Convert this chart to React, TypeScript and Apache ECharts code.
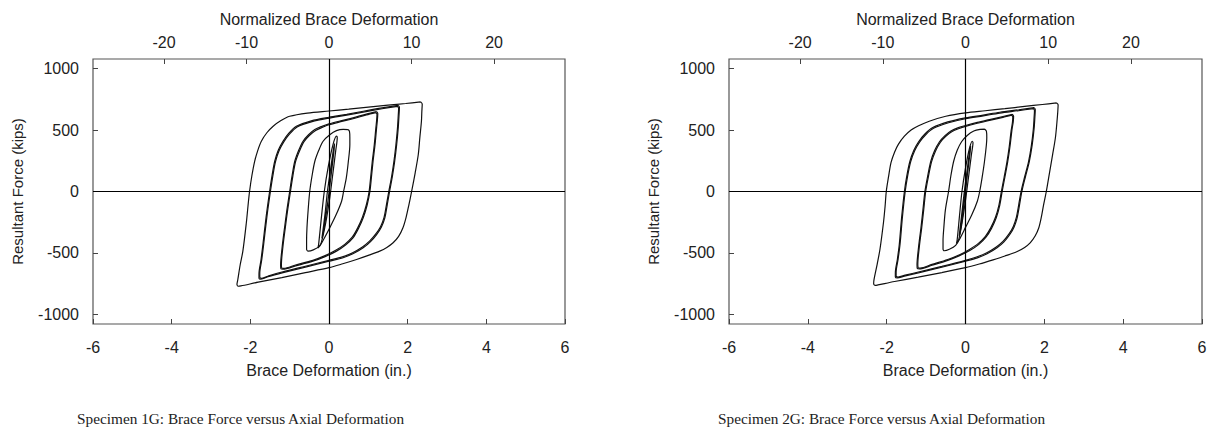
import React, { useEffect, useRef } from "react";
import * as echarts from "echarts";

// ---- Tick labels ----
const bottomTicks = [-6, -4, -2, 0, 2, 4, 6];
const topTicks = [-20, -10, 0, 10, 20];
const yTicks = [-1000, -500, 0, 500, 1000];

// ---- Titles ----
const captions = [
  "Specimen 1G: Brace Force versus Axial Deformation",
  "Specimen 2G: Brace Force versus Axial Deformation",
];

// ---- Specimen 1G loops: [deformation (in.), force (kips)] ----
const s1Elastic1 = [[-0.28,-460],[-0.26,-420],[-0.19,-200],[-0.12,0],[-0.02,200],[0.10,380],[0.19,450],[0.21,440],[0.17,330],[0.08,100],[0.02,-50],[-0.08,-250],[-0.20,-420],[-0.28,-460]];
const s1Elastic2 = [[-0.18,-380],[-0.10,-180],[-0.04,0],[0.04,180],[0.12,360],[0.14,390],[0.13,340],[0.06,150],[-0.02,-60],[-0.10,-250],[-0.16,-360],[-0.18,-380]];
const s1Loop4 = [[0.48,504],[0.52,490],[0.53,440],[0.53,382],[0.49,240],[0.44,111],[0.37,0],[0.32,-79],[0.18,-190],[0.02,-295],[-0.12,-380],[-0.24,-445],[-0.40,-475],[-0.53,-485],[-0.57,-470],[-0.57,-400],[-0.56,-295],[-0.53,-150],[-0.49,0],[-0.43,130],[-0.36,246],[-0.26,335],[-0.15,409],[0.02,462],[0.19,495],[0.36,506],[0.48,504]];
const s1Loop3a = [[1.21,650],[1.24,635],[1.23,580],[1.21,518],[1.17,380],[1.12,246],[1.08,120],[1.04,0],[0.97,-110],[0.87,-214],[0.75,-300],[0.61,-377],[0.42,-435],[0.19,-485],[-0.10,-530],[-0.41,-567],[-0.85,-605],[-1.17,-632],[-1.22,-630],[-1.23,-600],[-1.19,-450],[-1.13,-295],[-1.07,-150],[-1.00,0],[-0.94,125],[-0.87,246],[-0.77,335],[-0.66,409],[-0.52,462],[-0.36,504],[-0.18,530],[0,550],[0.30,575],[0.61,599],[0.95,630],[1.21,650]];
const s1Loop3b = [[1.19,642],[1.22,628],[1.21,575],[1.19,512],[1.15,376],[1.10,243],[1.06,118],[1.02,0],[0.95,-108],[0.85,-210],[0.73,-296],[0.59,-372],[0.40,-430],[0.17,-478],[-0.10,-522],[-0.41,-560],[-0.85,-598],[-1.15,-625],[-1.20,-623],[-1.21,-594],[-1.17,-445],[-1.11,-292],[-1.05,-148],[-0.98,0],[-0.92,123],[-0.85,243],[-0.75,330],[-0.64,404],[-0.50,456],[-0.34,497],[-0.16,523],[0,543],[0.30,568],[0.61,592],[0.95,623],[1.19,642]];
const s1Loop2a = [[1.76,700],[1.79,685],[1.78,620],[1.76,518],[1.72,380],[1.67,246],[1.61,120],[1.54,0],[1.48,-110],[1.42,-214],[1.33,-290],[1.21,-350],[1.05,-410],[0.87,-458],[0.62,-505],[0.36,-539],[0,-567],[-0.60,-615],[-1.17,-660],[-1.55,-693],[-1.73,-713],[-1.78,-705],[-1.78,-670],[-1.73,-560],[-1.68,-431],[-1.60,-210],[-1.51,0],[-1.45,125],[-1.38,246],[-1.29,335],[-1.17,409],[-1.02,475],[-0.83,531],[-0.45,575],[0,604],[0.45,628],[0.87,653],[1.35,680],[1.76,700]];
const s1Loop2b = [[1.74,693],[1.77,678],[1.76,614],[1.74,512],[1.70,376],[1.65,243],[1.59,118],[1.52,0],[1.46,-108],[1.40,-210],[1.31,-286],[1.19,-345],[1.03,-404],[0.85,-451],[0.60,-498],[0.34,-532],[0,-560],[-0.60,-608],[-1.17,-653],[-1.53,-686],[-1.71,-706],[-1.76,-698],[-1.76,-664],[-1.71,-555],[-1.66,-427],[-1.58,-208],[-1.49,0],[-1.43,123],[-1.36,243],[-1.27,331],[-1.15,404],[-1.00,469],[-0.81,525],[-0.43,568],[0,597],[0.45,621],[0.87,646],[1.35,673],[1.74,693]];
const s1Loop1 = [[2.33,729],[2.37,712],[2.36,650],[2.35,572],[2.31,440],[2.27,301],[2.19,150],[2.10,0],[2.03,-110],[1.96,-210],[1.88,-295],[1.77,-365],[1.63,-417],[1.47,-455],[1.29,-485],[1.00,-520],[0.70,-553],[0.35,-588],[0,-620],[-0.60,-660],[-1.20,-700],[-1.80,-738],[-2.24,-768],[-2.31,-771],[-2.34,-755],[-2.32,-720],[-2.26,-600],[-2.19,-485],[-2.10,-250],[-2.06,-120],[-2.02,0],[-1.96,130],[-1.89,246],[-1.81,335],[-1.72,409],[-1.58,478],[-1.42,531],[-1.22,577],[-1.00,612],[-0.55,638],[0,655],[0.50,670],[1.00,686],[1.50,702],[1.95,716],[2.33,729]];

// ---- Specimen 2G loops ----
const s2Elastic1 = [[-0.23,-425],[-0.21,-390],[-0.15,-190],[-0.09,0],[0.00,190],[0.10,350],[0.17,409],[0.19,398],[0.15,300],[0.07,100],[0.01,-50],[-0.08,-240],[-0.17,-390],[-0.23,-425]];
const s2Elastic2 = [[-0.16,-360],[-0.09,-170],[-0.03,0],[0.04,170],[0.11,340],[0.13,372],[0.12,325],[0.05,140],[-0.02,-60],[-0.09,-240],[-0.14,-340],[-0.16,-360]];
const s2Loop4 = [[0.49,507],[0.53,492],[0.54,440],[0.53,380],[0.48,240],[0.42,111],[0.36,0],[0.30,-79],[0.16,-190],[0.00,-292],[-0.13,-375],[-0.25,-438],[-0.41,-470],[-0.54,-482],[-0.57,-468],[-0.57,-400],[-0.55,-295],[-0.51,-150],[-0.43,0],[-0.37,130],[-0.30,246],[-0.21,335],[-0.10,405],[0.05,458],[0.21,492],[0.37,505],[0.49,507]];
const s2Loop3a = [[1.19,628],[1.22,613],[1.21,565],[1.18,505],[1.13,370],[1.07,240],[1.00,118],[0.93,0],[0.87,-110],[0.78,-214],[0.66,-300],[0.52,-372],[0.34,-430],[0.12,-478],[-0.15,-522],[-0.45,-560],[-0.85,-600],[-1.17,-630],[-1.22,-628],[-1.23,-598],[-1.19,-450],[-1.13,-295],[-1.08,-150],[-1.03,0],[-0.96,125],[-0.88,246],[-0.78,335],[-0.66,405],[-0.52,455],[-0.36,495],[-0.18,520],[0,537],[0.30,562],[0.61,585],[0.95,610],[1.19,628]];
const s2Loop3b = [[1.17,621],[1.20,606],[1.19,559],[1.16,499],[1.11,366],[1.05,237],[0.98,116],[0.91,0],[0.85,-108],[0.76,-210],[0.64,-296],[0.50,-367],[0.32,-424],[0.10,-471],[-0.15,-515],[-0.45,-553],[-0.85,-593],[-1.15,-623],[-1.20,-621],[-1.21,-592],[-1.17,-445],[-1.11,-292],[-1.06,-148],[-1.01,0],[-0.94,123],[-0.86,243],[-0.76,330],[-0.64,400],[-0.50,449],[-0.34,488],[-0.16,513],[0,530],[0.30,555],[0.61,578],[0.95,603],[1.17,621]];
const s2Loop2a = [[1.74,682],[1.77,667],[1.76,605],[1.74,510],[1.69,375],[1.62,246],[1.52,120],[1.43,0],[1.37,-110],[1.31,-214],[1.23,-290],[1.12,-352],[0.97,-412],[0.80,-458],[0.56,-505],[0.30,-540],[0,-567],[-0.60,-616],[-1.17,-660],[-1.55,-688],[-1.73,-703],[-1.78,-695],[-1.78,-662],[-1.73,-555],[-1.68,-431],[-1.62,-210],[-1.55,0],[-1.49,125],[-1.41,246],[-1.31,335],[-1.19,405],[-1.03,468],[-0.83,520],[-0.45,566],[0,599],[0.45,622],[0.87,645],[1.35,665],[1.74,682]];
const s2Loop2b = [[1.72,675],[1.75,660],[1.74,599],[1.72,504],[1.67,371],[1.60,243],[1.50,118],[1.41,0],[1.35,-108],[1.29,-210],[1.21,-286],[1.10,-347],[0.95,-406],[0.78,-451],[0.54,-498],[0.28,-533],[0,-560],[-0.60,-609],[-1.17,-653],[-1.53,-681],[-1.71,-696],[-1.76,-688],[-1.76,-656],[-1.71,-550],[-1.66,-427],[-1.60,-208],[-1.53,0],[-1.47,123],[-1.39,243],[-1.29,331],[-1.17,400],[-1.01,462],[-0.81,514],[-0.43,559],[0,592],[0.45,615],[0.87,638],[1.35,658],[1.72,675]];
const s2Loop1 = [[2.31,721],[2.35,705],[2.34,645],[2.32,565],[2.28,435],[2.21,300],[2.13,150],[2.05,0],[1.98,-110],[1.92,-215],[1.86,-295],[1.77,-360],[1.64,-418],[1.50,-455],[1.30,-490],[1.00,-525],[0.70,-556],[0.35,-590],[0,-620],[-0.60,-660],[-1.20,-697],[-1.80,-732],[-2.22,-760],[-2.29,-764],[-2.33,-750],[-2.32,-715],[-2.24,-590],[-2.17,-470],[-2.08,-250],[-2.04,-120],[-2.01,0],[-1.95,125],[-1.89,235],[-1.80,320],[-1.70,385],[-1.55,450],[-1.38,500],[-1.19,535],[-0.92,572],[-0.50,612],[0,640],[0.50,657],[1.00,674],[1.50,692],[1.95,708],[2.31,721]];

const loops1G = [s1Elastic1, s1Elastic2, s1Loop4, s1Loop3a, s1Loop3b, s1Loop2a, s1Loop2b, s1Loop1];
const loops2G = [s2Elastic1, s2Elastic2, s2Loop4, s2Loop3a, s2Loop3b, s2Loop2a, s2Loop2b, s2Loop1];

const SANS = "'Liberation Sans', Arial, sans-serif";
const SERIF = "'Liberation Serif', 'Times New Roman', serif";
const TEXT = "#222";
const FS = 16;

const grids = [
  { left: 93, top: 59, width: 472, height: 265 },
  { left: 729, top: 59, width: 473, height: 265 },
];

export default function App() {
  const ref = useRef<HTMLDivElement>(null);

  useEffect(() => {
    if (!ref.current) return;
    const chart = echarts.init(ref.current, null, { renderer: "svg" });

    const plain = (v: number) => String(v);
    const xAxes: any[] = [];
    const yAxes: any[] = [];
    grids.forEach((_, gi) => {
      xAxes.push({
        type: "value",
        gridIndex: gi,
        position: "bottom",
        min: bottomTicks[0],
        max: bottomTicks[bottomTicks.length - 1],
        interval: 2,
        axisLine: { show: false, onZero: false },
        axisTick: { show: true, inside: true, length: 5, lineStyle: { color: "#444", width: 1 } },
        axisLabel: { margin: 15, fontSize: FS, color: TEXT, fontFamily: SANS, formatter: plain },
        splitLine: { show: false },
        name: "Brace Deformation (in.)",
        nameLocation: "middle",
        nameGap: 38,
        nameTextStyle: { fontSize: FS, color: TEXT, fontFamily: SANS },
      });
      xAxes.push({
        type: "value",
        gridIndex: gi,
        position: "top",
        min: -28.6,
        max: 28.6,
        axisLine: { show: false, onZero: false },
        axisTick: { show: true, inside: true, length: 5, customValues: topTicks, lineStyle: { color: "#444", width: 1 } },
        axisLabel: { margin: 9, fontSize: FS, color: TEXT, fontFamily: SANS, customValues: topTicks, formatter: plain },
        splitLine: { show: false },
        name: "Normalized Brace Deformation",
        nameLocation: "middle",
        nameGap: 32,
        nameTextStyle: { fontSize: FS, color: TEXT, fontFamily: SANS },
      });
      yAxes.push({
        type: "value",
        gridIndex: gi,
        position: "left",
        min: -1078,
        max: 1078,
        axisLine: { show: false, onZero: false },
        axisTick: { show: true, inside: true, length: 5, customValues: yTicks, lineStyle: { color: "#444", width: 1 } },
        axisLabel: { margin: 14, fontSize: FS, color: TEXT, fontFamily: SANS, customValues: yTicks, formatter: plain },
        splitLine: { show: false },
        name: "Resultant Force (kips)",
        nameLocation: "middle",
        nameRotate: 90,
        nameGap: 68,
        nameTextStyle: { fontSize: 15, color: TEXT, fontFamily: SANS },
      });
    });

    const series: any[] = [];
    [loops1G, loops2G].forEach((loops, gi) => {
      loops.forEach((pts, li) => {
        series.push({
          type: "line",
          xAxisIndex: gi * 2,
          yAxisIndex: gi,
          data: pts,
          showSymbol: false,
          symbol: "none",
          smooth: 0.3,
          silent: true,
          lineStyle: { color: "#111", width: 1.2 },
          markLine:
            li === 0
              ? {
                  silent: true,
                  symbol: "none",
                  label: { show: false },
                  lineStyle: { color: "#000", width: 1.2, type: "solid" },
                  data: [{ xAxis: 0 }, { yAxis: 0 }],
                }
              : undefined,
        });
      });
    });

    chart.setOption({
      animation: false,
      backgroundColor: "#fff",
      grid: grids.map((g) => ({ ...g, show: true, borderColor: "#555", borderWidth: 1.2, containLabel: false })),
      xAxis: xAxes,
      yAxis: yAxes,
      series,
      graphic: [
        {
          type: "text",
          left: 77,
          top: 411,
          style: { text: captions[0], fontSize: 15.3, fontFamily: SERIF, fill: TEXT },
        },
        {
          type: "text",
          left: 718,
          top: 411,
          style: { text: captions[1], fontSize: 15.3, fontFamily: SERIF, fill: TEXT },
        },
      ],
    });

    return () => chart.dispose();
  }, []);

  return (
    <div
      ref={ref}
      style={{ position: "fixed", left: 0, top: 0, width: 1215, height: 433, background: "#fff" }}
    />
  );
}
